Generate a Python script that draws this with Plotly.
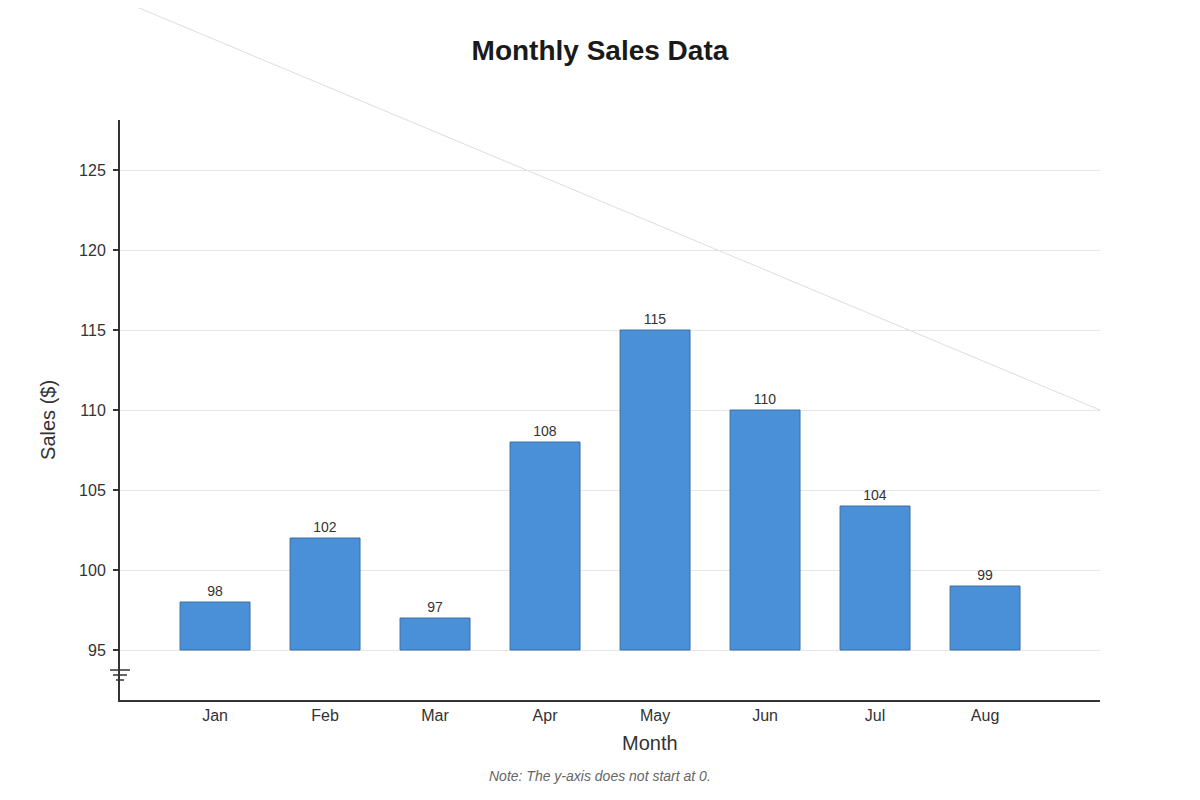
import plotly.graph_objects as go

# data
months = ["Jan", "Feb", "Mar", "Apr", "May", "Jun", "Jul", "Aug"]
sales = [98, 102, 97, 108, 115, 110, 104, 99]
y_ticks = [95, 100, 105, 110, 115, 120, 125]
baseline = 95

heights = [s - baseline for s in sales]

fig = go.Figure()
fig.add_trace(go.Bar(
    x=months,
    y=heights,
    base=baseline,
    width=0.636,
    marker=dict(color="#4a90d9", line=dict(color="#3a6f9f", width=1)),
    text=[str(s) for s in sales],
    textposition="outside",
    textfont=dict(size=14, color="#333333"),
    cliponaxis=False,
    customdata=sales,
    hovertemplate="Month=%{x}<br>Sales=%{customdata}<extra></extra>",
))

# faint diagonal line running across the top of the chart
fig.add_shape(type="line", xref="paper", yref="paper",
              x0=0, y0=1.2069, x1=1, y1=0.5,
              line=dict(color="#dddddd", width=1), layer="below")

# axis break marker just under the baseline
for y, half in [(93.75, 0.0102), (93.4375, 0.0071), (93.125, 0.0041)]:
    fig.add_shape(type="line", xref="paper", yref="y",
                  x0=-half, x1=half, y0=y, y1=y,
                  line=dict(color="#333333", width=1.5))

# axis titles placed by hand (they sit off-centre in the original)
fig.add_annotation(text="Month", xref="paper", yref="paper",
                   x=0.5408, y=-0.0741, xanchor="center", yanchor="middle",
                   showarrow=False,
                   font=dict(size=20, color="#333333"))
fig.add_annotation(text="Sales ($)", xref="paper", yref="paper",
                   x=-0.0735, y=0.4828, xanchor="center", yanchor="middle",
                   showarrow=False, textangle=-90,
                   font=dict(size=20, color="#333333"))

fig.add_annotation(text="Note: The y-axis does not start at 0.",
                   xref="paper", yref="paper", x=0.4898, y=-0.148,
                   showarrow=False,
                   font=dict(size=14, color="#666666", style="italic"))

fig.update_layout(
    width=1200, height=800,
    margin=dict(l=112, r=108, t=112, b=108),
    paper_bgcolor="white", plot_bgcolor="white",
    font=dict(family="Liberation Sans, Arial, sans-serif", color="#333333"),
    title=dict(text="<b>Monthly Sales Data</b>", x=0.4933, xanchor="center",
               y=0.9475, yanchor="middle",
               font=dict(size=28, color="#1a1a1a")),
    showlegend=False,
)
fig.update_xaxes(
    range=[-0.864, 8.045],
    showline=True, linecolor="#333333", linewidth=2,
    showgrid=False, ticks="",
    tickfont=dict(size=16, color="#333333"),
)
fig.update_yaxes(
    range=[91.875, 128.125],
    tickvals=y_ticks,
    showline=True, linecolor="#333333", linewidth=2,
    showgrid=True, gridcolor="#e6e6e6", gridwidth=1,
    zeroline=False,
    ticks="outside", ticklen=5, tickcolor="#333333", tickwidth=2,
    ticklabelstandoff=4,
    tickfont=dict(size=16, color="#333333"),
)

fig.write_html("out.html")
